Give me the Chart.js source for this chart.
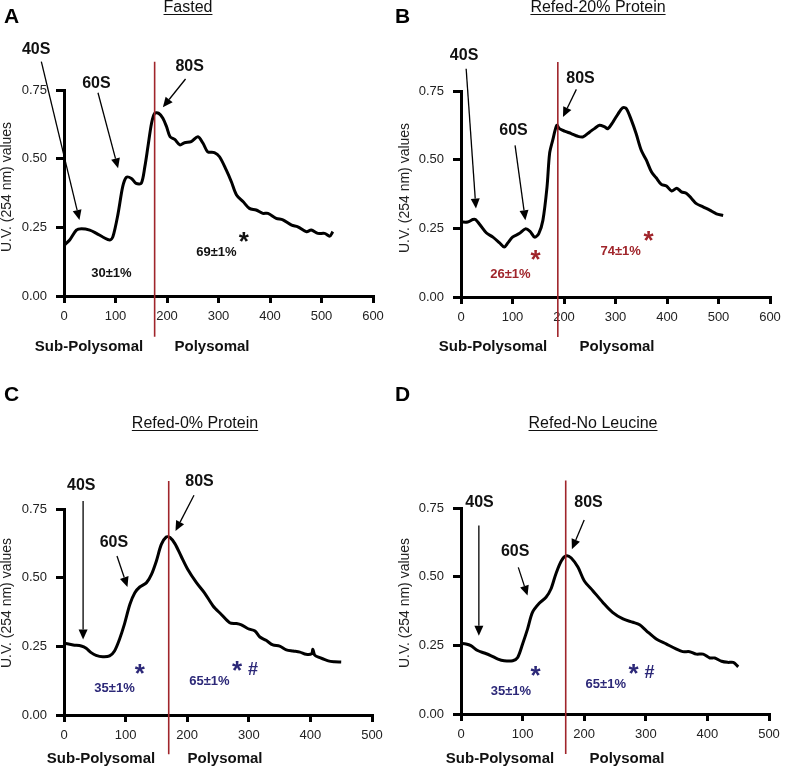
<!DOCTYPE html>
<html><head><meta charset="utf-8">
<script src="https://cdn.jsdelivr.net/npm/chart.js@4/dist/chart.umd.min.js"></script>
<style>
body{margin:0;background:#fff;}
#wrap{position:relative;width:787px;height:768px;overflow:hidden;background:#fff;}
canvas{position:absolute;}
</style></head>
<body>
<div id="wrap">
<canvas id="cA" width="393" height="384" style="left:0;top:0;width:393px;height:384px"></canvas>
<canvas id="cB" width="394" height="384" style="left:393px;top:0;width:394px;height:384px"></canvas>
<canvas id="cC" width="393" height="384" style="left:0;top:384px;width:393px;height:384px"></canvas>
<canvas id="cD" width="394" height="384" style="left:393px;top:384px;width:394px;height:384px"></canvas>
</div>
<script>
// ---- data ----
const xTicksAB = [0,100,200,300,400,500,600];
const xTicksCD = [0,100,200,300,400,500];
const yTicks = [0.00,0.25,0.50,0.75];

const xA = [1,11,24,34,50,63,76,89,95,105,114,121,131,140,150,157,163,170,176,184,192,199,206,215,225,234,247,260,270,279,292,302,315,325,335,348,360,373,386,396,412,425,442,454,471,480,493,506,516,522];
const yA = [0.186,0.204,0.24,0.245,0.24,0.228,0.214,0.204,0.216,0.30,0.398,0.432,0.428,0.41,0.41,0.471,0.544,0.629,0.665,0.665,0.647,0.617,0.58,0.57,0.55,0.558,0.562,0.58,0.556,0.525,0.522,0.507,0.459,0.416,0.368,0.343,0.319,0.313,0.301,0.301,0.283,0.277,0.258,0.252,0.234,0.240,0.228,0.228,0.218,0.234];

const xB = [0,13,23,28,36,49,62,75,84,91,100,113,125,134,143,151,159,167,172,178,186,191,201,214,227,237,250,259,269,279,285,295,305,314,321,331,340,350,360,370,379,389,399,409,419,428,438,448,457,470,483,496,509];
const yB = [0.273,0.273,0.282,0.282,0.265,0.234,0.218,0.197,0.182,0.197,0.218,0.231,0.248,0.239,0.218,0.231,0.279,0.40,0.522,0.57,0.625,0.613,0.604,0.595,0.585,0.583,0.601,0.613,0.625,0.619,0.613,0.637,0.667,0.689,0.686,0.643,0.595,0.534,0.498,0.455,0.434,0.41,0.404,0.386,0.396,0.383,0.377,0.358,0.34,0.328,0.316,0.303,0.297];

const xC = [1,15,28,36,44,52,63,74,82,90,98,107,115,123,134,142,150,158,166,172,180,190,201,215,228,242,255,269,280,288,299,310,318,328,339,350,361,372,383,393,402,404,407,415,429,439,450];
const yC = [0.261,0.255,0.251,0.243,0.227,0.217,0.212,0.215,0.233,0.275,0.33,0.403,0.445,0.466,0.482,0.512,0.561,0.621,0.648,0.646,0.624,0.579,0.53,0.482,0.445,0.397,0.367,0.336,0.333,0.328,0.314,0.306,0.284,0.272,0.255,0.251,0.237,0.233,0.229,0.221,0.223,0.239,0.218,0.209,0.197,0.194,0.193];

const xD = [0,8,16,27,38,49,60,70,84,92,100,108,116,127,138,146,154,163,171,179,190,200,214,230,246,263,279,290,301,317,333,349,360,371,382,393,404,412,423,433,442,450];
const yD = [0.257,0.255,0.249,0.231,0.222,0.212,0.2,0.194,0.194,0.206,0.255,0.309,0.37,0.403,0.425,0.455,0.51,0.558,0.576,0.568,0.534,0.485,0.449,0.407,0.37,0.346,0.334,0.325,0.303,0.273,0.255,0.237,0.227,0.227,0.218,0.218,0.204,0.204,0.192,0.188,0.188,0.172];

// sub-polysomal / polysomal boundary on each profile
const boundaryX = {A:176, B:188, C:170, D:170};
const pctSub = {A:"30±1%", B:"26±1%", C:"35±1%", D:"35±1%"};
const pctPoly = {A:"69±1%", B:"74±1%", C:"65±1%", D:"65±1%"};
const titles = {A:"Fasted", B:"Refed-20% Protein", C:"Refed-0% Protein", D:"Refed-No Leucine"};

// ---- styles ----
const FONT = 'Arial, "Liberation Sans", sans-serif';
const RED = '#a0252b', NAVY = '#2c2878', BLK = '#111';

function drawArrow(ctx, x1, y1, x2, y2){
  const ang = Math.atan2(y2-y1, x2-x1), L = 10, W = 4.5;
  const bx = x2 - L*Math.cos(ang), by = y2 - L*Math.sin(ang);
  ctx.strokeStyle = '#000'; ctx.fillStyle = '#000'; ctx.lineWidth = 1.3;
  ctx.beginPath(); ctx.moveTo(x1,y1); ctx.lineTo(bx,by); ctx.stroke();
  ctx.beginPath(); ctx.moveTo(x2,y2);
  ctx.lineTo(bx + W*Math.sin(ang), by - W*Math.cos(ang));
  ctx.lineTo(bx - W*Math.sin(ang), by + W*Math.cos(ang));
  ctx.closePath(); ctx.fill();
}
function txt(ctx, s, x, cy, size, bold, color, kind){
  ctx.font = (bold?'bold ':'') + size + 'px ' + FONT;
  ctx.fillStyle = color; ctx.textAlign = 'center'; ctx.textBaseline = 'alphabetic';
  let off = 0.36*size;
  if (kind === 'star') off = 0.45*size;
  ctx.fillText(s, x, cy + off);
}

const annotPlugin = {
  id: 'annot',
  afterDatasetsDraw(chart, args, o){
    const ctx = chart.ctx, sx = chart.scales.x, sy = chart.scales.y;
    const X = v => sx.getPixelForValue(v), Y = v => sy.getPixelForValue(v);
    ctx.save();
    ctx.strokeStyle = RED; ctx.lineWidth = 1.6;
    ctx.beginPath(); ctx.moveTo(X(o.div[0]), Y(o.div[1])); ctx.lineTo(X(o.div[0]), Y(o.div[2])); ctx.stroke();
    o.arrows.forEach(a => drawArrow(ctx, X(a[0]), Y(a[1]), X(a[2]), Y(a[3])));
    o.labels.forEach(l => txt(ctx, l.t, X(l.x), Y(l.y), l.s, true, l.c, l.k));
    ctx.font = 'bold 21px ' + FONT; ctx.fillStyle = '#000'; ctx.textAlign = 'left'; ctx.textBaseline = 'alphabetic';
    ctx.fillText(o.letter[0], o.letter[1], o.letter[2]);
    ctx.font = '16px ' + FONT; ctx.fillStyle = BLK; ctx.textAlign = 'center';
    ctx.fillText(o.title[0], o.title[1], o.title[2]);
    const w = ctx.measureText(o.title[0]).width;
    ctx.strokeStyle = BLK; ctx.lineWidth = 1;
    ctx.beginPath(); ctx.moveTo(o.title[1]-w/2, o.title[2]+2.5); ctx.lineTo(o.title[1]+w/2, o.title[2]+2.5); ctx.stroke();
    ctx.save(); ctx.translate(o.ytitle[0], o.ytitle[1]); ctx.rotate(-Math.PI/2);
    ctx.font = '14px ' + FONT; ctx.fillStyle = '#222'; ctx.textAlign = 'center'; ctx.textBaseline = 'middle';
    ctx.fillText('U.V. (254 nm) values', 0, 0); ctx.restore();
    ctx.font = 'bold 15px ' + FONT; ctx.fillStyle = BLK; ctx.textAlign = 'center'; ctx.textBaseline = 'middle';
    ctx.fillText('Sub-Polysomal', o.regions[0], o.regions[2]);
    ctx.fillText('Polysomal', o.regions[1], o.regions[2]);
    ctx.restore();
  }
};

const panels = [
  {id:'cA', w:393, h:384, area:{l:64, r:373, t:90, b:296}, xmax:600, xs:xA, ys:yA, xticks:xTicksAB,
   annot:{div:[boundaryX.A,0.853,-0.148],
     arrows:[[-44,0.853,30,0.277],[66,0.74,105,0.465],[236,0.79,192,0.687]],
     labels:[{t:'40S',x:-54,y:0.902,s:16,c:BLK},{t:'60S',x:63,y:0.777,s:16,c:BLK},{t:'80S',x:244,y:0.841,s:16,c:BLK},
       {t:pctSub.A,x:92,y:0.085,s:13,c:BLK},{t:pctPoly.A,x:296,y:0.161,s:13,c:BLK},{t:'*',x:349,y:0.21,s:26,c:BLK,k:'star'}],
     letter:['A',4,23], title:[titles.A,188,12], ytitle:[7,187], regions:[89,212,347]}},
  {id:'cB', w:394, h:384, area:{l:68, r:377, t:91, b:297}, xmax:600, xs:xB, ys:yB, xticks:xTicksAB,
   annot:{div:[boundaryX.B,0.856,-0.146],
     arrows:[[10,0.831,29,0.322],[105,0.552,125,0.279],[224,0.756,198,0.655]],
     labels:[{t:'40S',x:6,y:0.885,s:16,c:BLK},{t:'60S',x:102,y:0.609,s:16,c:BLK},{t:'80S',x:232,y:0.801,s:16,c:BLK},
       {t:pctSub.B,x:96,y:0.085,s:13,c:RED},{t:'*',x:145,y:0.149,s:26,c:RED,k:'star'},
       {t:pctPoly.B,x:310,y:0.17,s:13,c:RED},{t:'*',x:364,y:0.218,s:26,c:RED,k:'star'}],
     letter:['B',2,23], title:[titles.B,205,12], ytitle:[12,188], regions:[100,224,347]}},
  {id:'cC', w:393, h:384, area:{l:64, r:372, t:125, b:331}, xmax:500, xs:xC, ys:yC, xticks:xTicksCD,
   annot:{div:[boundaryX.C,0.852,-0.143],
     arrows:[[31,0.779,31,0.275],[86,0.579,103,0.466],[211,0.80,181,0.67]],
     labels:[{t:'40S',x:28,y:0.84,s:16,c:BLK},{t:'60S',x:81,y:0.633,s:16,c:BLK},{t:'80S',x:220,y:0.854,s:16,c:BLK},
       {t:pctSub.C,x:82,y:0.1,s:13,c:NAVY},{t:'*',x:123,y:0.163,s:26,c:NAVY,k:'star'},
       {t:pctPoly.C,x:236,y:0.126,s:13,c:NAVY},{t:'*',x:281,y:0.175,s:26,c:NAVY,k:'star'},{t:'#',x:307,y:0.17,s:18,c:NAVY}],
     letter:['C',4,17], title:[titles.C,195,44], ytitle:[7,219], regions:[101,225,375]}},
  {id:'cD', w:394, h:384, area:{l:68, r:376, t:124, b:330}, xmax:500, xs:xD, ys:yD, xticks:xTicksCD,
   annot:{div:[boundaryX.D,0.85,-0.146],
     arrows:[[29,0.686,29,0.285],[93,0.534,108,0.431],[200,0.706,180,0.6]],
     labels:[{t:'40S',x:30,y:0.773,s:16,c:BLK},{t:'60S',x:88,y:0.595,s:16,c:BLK},{t:'80S',x:207,y:0.773,s:16,c:BLK},
       {t:pctSub.D,x:81,y:0.085,s:13,c:NAVY},{t:'*',x:121,y:0.152,s:26,c:NAVY,k:'star'},
       {t:pctPoly.D,x:235,y:0.112,s:13,c:NAVY},{t:'*',x:280,y:0.16,s:26,c:NAVY,k:'star'},{t:'#',x:306,y:0.155,s:18,c:NAVY}],
     letter:['D',2,17], title:[titles.D,200,44], ytitle:[12,219], regions:[107,234,375]}}
];

panels.forEach(p => {
  new Chart(document.getElementById(p.id), {
    type:'line',
    data:{datasets:[{data:p.xs.map((x,i)=>({x:x, y:p.ys[i]})), borderColor:'#000', borderWidth:3,
      pointRadius:0, tension:0.3, fill:false}]},
    options:{
      responsive:false, animation:false, devicePixelRatio:1,
      layout:{padding:{left:0, top:p.area.t, right:p.w - p.area.r, bottom:0}},
      plugins:{legend:{display:false}, tooltip:{enabled:false}, title:{display:false}, annot:p.annot},
      scales:{
        x:{type:'linear', min:0, max:p.xmax,
          afterFit:s=>{s.height = p.h - p.area.b;},
          afterBuildTicks:s=>{s.ticks = p.xticks.map(v=>({value:v}));},
          ticks:{color:'#222', font:{size:13, family:FONT}, padding:6, maxRotation:0, autoSkip:false},
          grid:{drawOnChartArea:false, drawTicks:true, tickLength:7, color:'#000', lineWidth:3},
          border:{color:'#000', width:3}},
        y:{min:0, max:0.75,
          afterFit:s=>{s.width = p.area.l;},
          afterBuildTicks:s=>{s.ticks = yTicks.map(v=>({value:v}));},
          ticks:{color:'#222', font:{size:13, family:FONT}, padding:9, callback:v=>Number(v).toFixed(2)},
          grid:{drawOnChartArea:false, drawTicks:true, tickLength:8, color:'#000', lineWidth:3},
          border:{color:'#000', width:3}}
      }
    },
    plugins:[annotPlugin]
  });
});
</script>
</body></html>
